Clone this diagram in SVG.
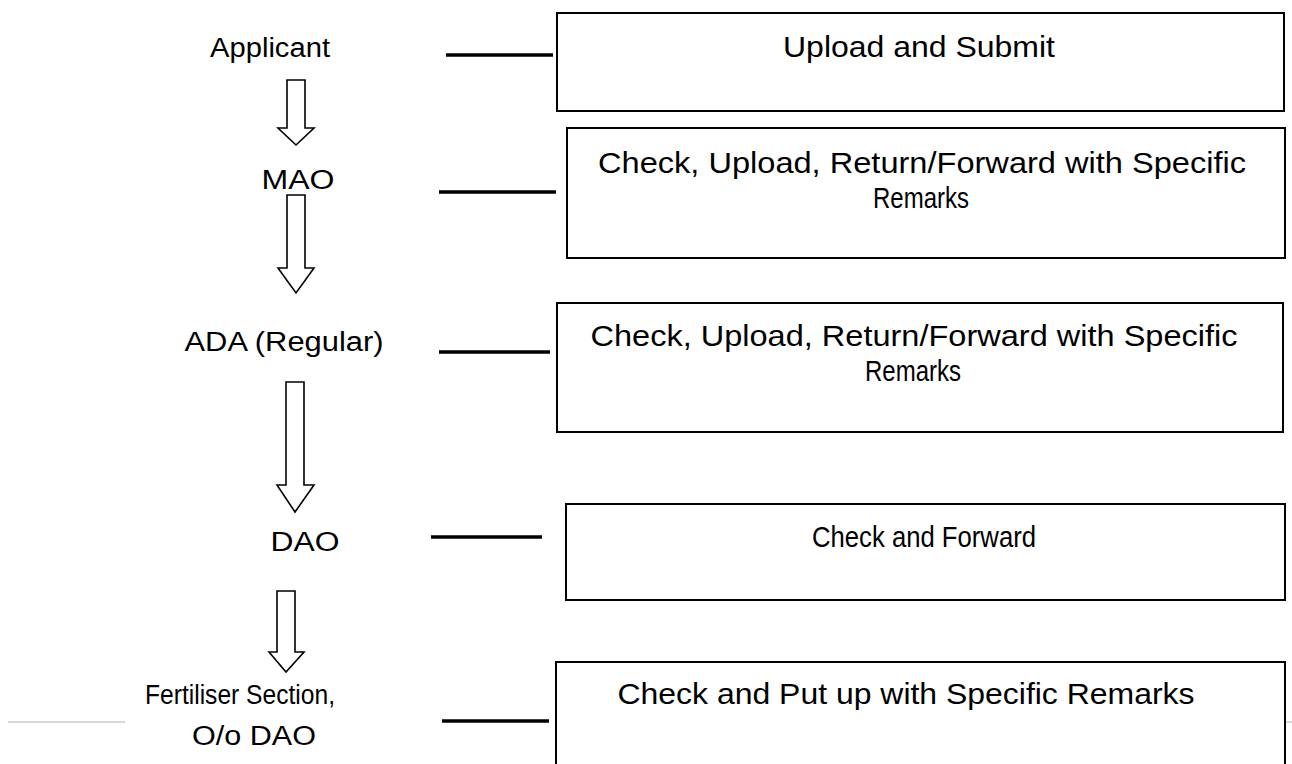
<svg xmlns="http://www.w3.org/2000/svg" width="1292" height="764" viewBox="0 0 1292 764">
  <style>
    .lbl { font-family: "Liberation Sans", Arial, sans-serif; font-size: 27px; fill: #000; }
    .act { font-family: "Liberation Sans", Arial, sans-serif; font-size: 29px; fill: #000; }
    .box { fill: #fff; stroke: #000; stroke-width: 2; }
    .tie { stroke: #000; stroke-width: 3.5; fill: none; }
    .flow { fill: #fff; stroke: #000; stroke-width: 1.6; stroke-linejoin: miter; }
    .rule { stroke: #d9d9d9; stroke-width: 2; }
  </style>
  <rect width="1292" height="764" fill="#fff"/>

  <!-- faint page rule -->
  <line class="rule" x1="8" y1="722" x2="125" y2="722"/>
  <line class="rule" x1="1286" y1="722" x2="1292" y2="722"/>

  <!-- connectors: hollow down arrows and horizontal ties -->
  <g id="connectors">
    <path class="flow" d="M287,80 H305 V128 H314 L296,145 L278,128 H287 Z"/>
    <path class="flow" d="M287,195 H305 V268 H314 L296,293 L278,268 H287 Z"/>
    <path class="flow" d="M286,382 H304 V485 H314 L295,512 L277,485 H286 Z"/>
    <path class="flow" d="M277,591 H295 V652 H304 L286,672 L269,652 H277 Z"/>
    <line class="tie" x1="446" y1="55" x2="553" y2="55"/>
    <line class="tie" x1="439" y1="192" x2="556" y2="192"/>
    <line class="tie" x1="439" y1="352" x2="550" y2="352"/>
    <line class="tie" x1="431" y1="537" x2="542" y2="537"/>
    <line class="tie" x1="442" y1="721" x2="549" y2="721"/>
  </g>

  <!-- role labels -->
  <g id="applicant"><text class="lbl" x="270" y="57" text-anchor="middle" textLength="120" lengthAdjust="spacingAndGlyphs">Applicant</text></g>
  <g id="mao"><text class="lbl" x="298" y="189" text-anchor="middle" textLength="73" lengthAdjust="spacingAndGlyphs">MAO</text></g>
  <g id="ada"><text class="lbl" x="284" y="351" text-anchor="middle" textLength="199" lengthAdjust="spacingAndGlyphs">ADA (Regular)</text></g>
  <g id="dao"><text class="lbl" x="305" y="551" text-anchor="middle" textLength="69" lengthAdjust="spacingAndGlyphs">DAO</text></g>
  <g id="fertiliser">
    <text class="lbl" x="240" y="704" text-anchor="middle" textLength="190" lengthAdjust="spacingAndGlyphs">Fertiliser Section,</text>
    <text class="lbl" x="254" y="745" text-anchor="middle" textLength="124" lengthAdjust="spacingAndGlyphs">O/o DAO</text>
  </g>

  <!-- action boxes -->
  <g id="act-submit">
    <rect class="box" x="557" y="13" width="727" height="98"/>
    <text class="act" x="919" y="57" text-anchor="middle" textLength="272" lengthAdjust="spacingAndGlyphs">Upload and Submit</text>
  </g>
  <g id="act-mao">
    <rect class="box" x="567" y="128" width="718" height="130"/>
    <text class="act" x="922" y="173" text-anchor="middle" textLength="648" lengthAdjust="spacingAndGlyphs">Check, Upload, Return/Forward with Specific</text>
    <text class="act" x="921" y="208" text-anchor="middle" textLength="96" lengthAdjust="spacingAndGlyphs">Remarks</text>
  </g>
  <g id="act-ada">
    <rect class="box" x="557" y="303" width="726" height="129"/>
    <text class="act" x="914" y="346" text-anchor="middle" textLength="647" lengthAdjust="spacingAndGlyphs">Check, Upload, Return/Forward with Specific</text>
    <text class="act" x="913" y="381" text-anchor="middle" textLength="96" lengthAdjust="spacingAndGlyphs">Remarks</text>
  </g>
  <g id="act-dao">
    <rect class="box" x="566" y="504" width="719" height="96"/>
    <text class="act" x="924" y="547" text-anchor="middle" textLength="224" lengthAdjust="spacingAndGlyphs">Check and Forward</text>
  </g>
  <g id="act-section">
    <rect class="box" x="556" y="662" width="729" height="110"/>
    <text class="act" x="906" y="704" text-anchor="middle" textLength="577" lengthAdjust="spacingAndGlyphs">Check and Put up with Specific Remarks</text>
  </g>
</svg>
